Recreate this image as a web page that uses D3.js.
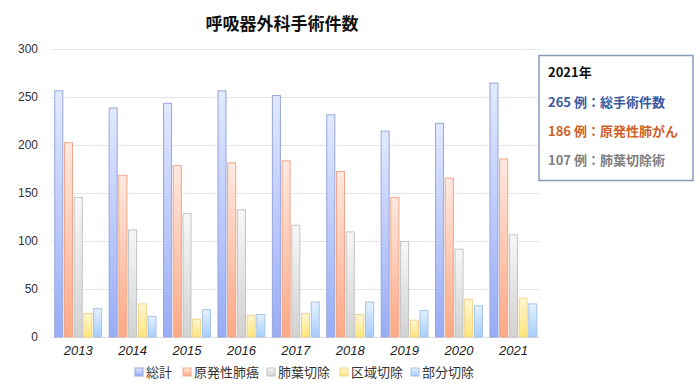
<!DOCTYPE html>
<html><head><meta charset="utf-8">
<script src="https://cdn.jsdelivr.net/npm/d3@7"></script>
<style>
body{margin:0;background:#fff;}
svg{display:block;font-family:"Noto Sans CJK JP","Noto Sans",sans-serif;}
</style></head>
<body>
<svg id="chart" width="700" height="390"></svg>
<script>
const years = ["2013","2014","2015","2016","2017","2018","2019","2020","2021"];
const seriesNames = ["総計","原発性肺癌","肺葉切除","区域切除","部分切除"];
const total   = [257,239,244,257,252,232,215,223,265];
const primary = [203,169,179,182,184,173,146,166,186];
const lobe    = [146,112,129,133,117,110,100,92,107];
const segment = [25,35,19,23,25,24,18,40,41];
const partial = [30,22,29,24,37,37,28,33,35];
const yTicks = [0,50,100,150,200,250,300];
const noteLines = ["2021年","265 例：総手術件数","186 例：原発性肺がん","107 例：肺葉切除術"];

const seriesValues = [total, primary, lobe, segment, partial];
const grads = [
  {top:"#e2e9ff", bot:"#98acf6", stroke:"#97a6da"},
  {top:"#ffe9e0", bot:"#fca884", stroke:"#eea78c"},
  {top:"#f7f7f7", bot:"#d2d2d2", stroke:"#c4c4c4"},
  {top:"#fff7d2", bot:"#ffe57a", stroke:"#efd48e"},
  {top:"#e4f1ff", bot:"#a6cdfb", stroke:"#a4c3e6"}
];

const svg = d3.select("#chart");
const margin = {left:51, right:160, top:49, bottom:53};
const W = 700, H = 390;
const x0 = d3.scaleBand().domain(years).range([51, 540.6]).paddingInner(0.12).paddingOuter(0.06);
const x1 = d3.scaleBand().domain(d3.range(5)).range([0, x0.bandwidth()]).paddingInner(0.07);
const y = d3.scaleLinear().domain([0,300]).range([337, 49]);

const defs = svg.append("defs");
grads.forEach((g,i)=>{
  const lg = defs.append("linearGradient").attr("id","g"+i).attr("x1",0).attr("y1",0).attr("x2",0).attr("y2",1);
  lg.append("stop").attr("offset","0%").attr("stop-color",g.top);
  lg.append("stop").attr("offset","100%").attr("stop-color",g.bot);
});

// gridlines
svg.append("g").selectAll("line").data(yTicks.filter(d=>d>0)).join("line")
  .attr("x1",51).attr("x2",540).attr("y1",d=>y(d)+0.5).attr("y2",d=>y(d)+0.5)
  .attr("stroke","#e6e6e6").attr("stroke-width",1);

// y axis
const yAxis = svg.append("g").attr("transform","translate(51,0)")
  .call(d3.axisLeft(y).tickValues(yTicks).tickSize(0).tickPadding(13));
yAxis.select(".domain").remove();
yAxis.selectAll("text").attr("font-size",12).attr("fill","#333")
  .attr("font-family","'Liberation Sans',Arial,sans-serif");

// baseline
svg.append("line").attr("x1",51).attr("x2",540).attr("y1",337.5).attr("y2",337.5).attr("stroke","#e0e0e0");

// bars
const groups = svg.append("g").selectAll("g").data(years).join("g")
  .attr("transform",d=>`translate(${x0(d)},0)`);
groups.selectAll("rect").data((d,i)=>seriesValues.map((s,k)=>({k, v:s[i]}))).join("rect")
  .attr("x",d=>x1(d.k)+0.5).attr("width",x1.bandwidth()-1)
  .attr("y",d=>y(d.v)+0.5).attr("height",d=>y(0)-y(d.v)-0.5)
  .attr("fill",d=>`url(#g${d.k})`).attr("stroke",d=>grads[d.k].stroke).attr("stroke-width",1);

// x axis labels
const xAxis = svg.append("g").attr("transform","translate(0,337)")
  .call(d3.axisBottom(x0).tickSize(0).tickPadding(9));
xAxis.select(".domain").remove();
xAxis.selectAll("text").attr("font-size",13).attr("font-style","italic").attr("fill","#222")
  .attr("font-family","'Liberation Sans',Arial,sans-serif");

// title
svg.append("text").attr("x",282).attr("y",30).attr("text-anchor","middle")
  .attr("font-size",17).attr("font-weight","bold").attr("fill","#111").text("呼吸器外科手術件数");

// legend
const legX = [135,183,267,340,411];
const leg = svg.append("g").selectAll("g").data(seriesNames).join("g")
  .attr("transform",(d,i)=>`translate(${legX[i]},368)`);
leg.append("rect").attr("width",8).attr("height",8).attr("y",0)
  .attr("fill",(d,i)=>`url(#g${i})`).attr("stroke",(d,i)=>grads[i].stroke);
leg.append("text").attr("x",11).attr("y",8.5).attr("font-size",13).attr("fill","#333").text(d=>d);

// annotation box
const box = svg.append("g");
box.append("rect").attr("x",539).attr("y",55.5).attr("width",154).attr("height",125)
  .attr("fill","#fff").attr("stroke","#8a98b8").attr("stroke-width",1.5);
const noteColors = ["#111","#3b5a9e","#cf5f28","#808080"];
const noteY = [77,107,136,165];
box.selectAll("text").data(noteLines).join("text")
  .attr("x",548).attr("y",(d,i)=>noteY[i]).attr("font-size",13).attr("font-weight","bold")
  .attr("fill",(d,i)=>noteColors[i]).text(d=>d);
</script>
</body></html>
